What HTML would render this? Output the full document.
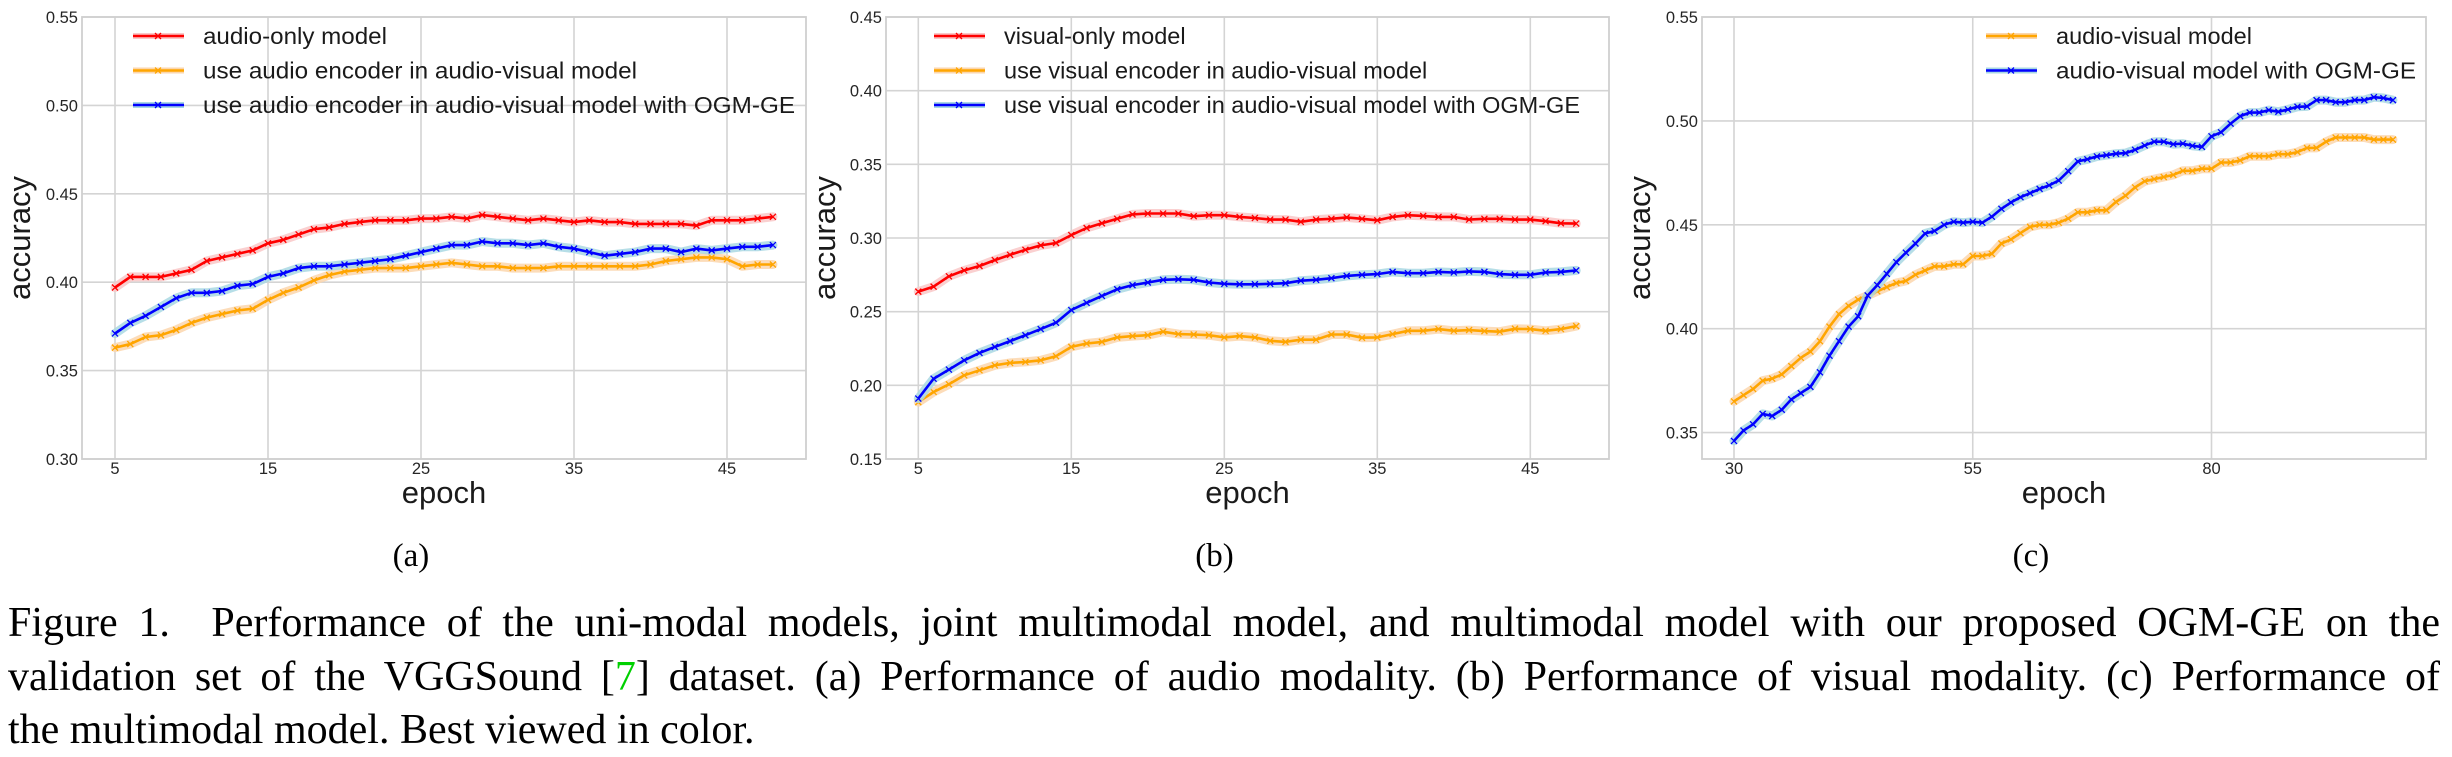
<!DOCTYPE html>
<html>
<head>
<meta charset="utf-8">
<style>
  html,body{margin:0;padding:0;background:#fff;}
  body{position:relative;width:2452px;height:757px;overflow:hidden;}
  svg{display:block;position:absolute;left:0;top:0;}
  .tick{font-family:"Liberation Sans",Arial,sans-serif;font-size:16.5px;fill:#262626;}
  .axt{font-family:"Liberation Sans",Arial,sans-serif;font-size:31px;fill:#1a1a1a;}
  .leg{font-family:"Liberation Sans",Arial,sans-serif;font-size:23.5px;fill:#1a1a1a;}
  .sub{font-family:"Liberation Serif","Times New Roman",serif;font-size:33px;fill:#000;}
  .cap{position:absolute;left:8px;width:2432px;font-family:"Liberation Serif","Times New Roman",serif;font-size:42px;line-height:53px;color:#000;white-space:nowrap;}
  .just{text-align:justify;text-align-last:justify;white-space:normal;}
</style>
</head>
<body>
<svg id="fig" width="2452" height="757" viewBox="0 0 2452 757" xmlns="http://www.w3.org/2000/svg">
  <g id="panels"></g>
</svg>
<div class="cap just" style="top:597px">Figure 1.&nbsp; Performance of the uni-modal models, joint multimodal model, and multimodal model with our proposed OGM-GE on the</div>
<div class="cap just" style="top:651px">validation set of the VGGSound [<span style="color:#00d000">7</span>] dataset. (a) Performance of audio modality. (b) Performance of visual modality. (c) Performance of</div>
<div class="cap" style="top:704px">the multimodal model. Best viewed in color.</div>
<script>
// ---------- Panel (a) data ----------
const epochsA = [5,6,7,8,9,10,11,12,13,14,15,16,17,18,19,20,21,22,23,24,25,26,27,28,29,30,31,32,33,34,35,36,37,38,39,40,41,42,43,44,45,46,47,48];
const audioOnly = [0.397,0.403,0.403,0.403,0.405,0.407,0.412,0.414,0.416,0.418,0.422,0.424,0.427,0.430,0.431,0.433,0.434,0.435,0.435,0.435,0.436,0.436,0.437,0.436,0.438,0.437,0.436,0.435,0.436,0.435,0.434,0.435,0.434,0.434,0.433,0.433,0.433,0.433,0.432,0.435,0.435,0.435,0.436,0.437];
const audioEncAV = [0.363,0.365,0.369,0.370,0.373,0.377,0.380,0.382,0.384,0.385,0.390,0.394,0.397,0.401,0.404,0.406,0.407,0.408,0.408,0.408,0.409,0.410,0.411,0.410,0.409,0.409,0.408,0.408,0.408,0.409,0.409,0.409,0.409,0.409,0.409,0.410,0.412,0.413,0.414,0.414,0.413,0.409,0.410,0.410];
const audioEncOGM = [0.371,0.377,0.381,0.386,0.391,0.394,0.394,0.395,0.398,0.399,0.403,0.405,0.408,0.409,0.409,0.410,0.411,0.412,0.413,0.415,0.417,0.419,0.421,0.421,0.423,0.422,0.422,0.421,0.422,0.420,0.419,0.417,0.415,0.416,0.417,0.419,0.419,0.417,0.419,0.418,0.419,0.420,0.420,0.421];
const yTicksA = [0.30,0.35,0.40,0.45,0.50,0.55];
const xTicksA = [5,15,25,35,45];

// ---------- Panel (b) data ----------
const epochsB = [5,6,7,8,9,10,11,12,13,14,15,16,17,18,19,20,21,22,23,24,25,26,27,28,29,30,31,32,33,34,35,36,37,38,39,40,41,42,43,44,45,46,47,48];
const visualOnly = [0.2636,0.267,0.274,0.278,0.281,0.285,0.2886,0.292,0.295,0.2966,0.302,0.3068,0.310,0.313,0.316,0.3166,0.3166,0.3166,0.3148,0.3155,0.3155,0.3143,0.3136,0.3125,0.3125,0.311,0.3125,0.313,0.314,0.313,0.312,0.3143,0.3155,0.315,0.3143,0.3143,0.3125,0.313,0.313,0.3125,0.3125,0.3114,0.310,0.3098];
const visualEncAV = [0.1886,0.1955,0.2007,0.2068,0.2102,0.2136,0.2152,0.2159,0.217,0.2198,0.2261,0.2284,0.2295,0.2325,0.2334,0.234,0.2364,0.2348,0.2345,0.234,0.2325,0.2334,0.2325,0.2302,0.2295,0.231,0.231,0.2345,0.2345,0.2323,0.2325,0.2348,0.237,0.237,0.2382,0.237,0.2375,0.2368,0.2364,0.2384,0.2382,0.237,0.2382,0.2402];
const visualEncOGM = [0.191,0.2045,0.2107,0.217,0.222,0.2261,0.230,0.234,0.2382,0.2425,0.2511,0.256,0.2607,0.2652,0.268,0.2698,0.2716,0.272,0.2716,0.2698,0.2689,0.2686,0.2686,0.2689,0.2693,0.271,0.2716,0.2727,0.2743,0.275,0.2755,0.277,0.2761,0.2761,0.277,0.2766,0.2773,0.277,0.2755,0.275,0.275,0.2766,0.277,0.278];
const yTicksB = [0.15,0.20,0.25,0.30,0.35,0.40,0.45];
const xTicksB = [5,15,25,35,45];

// ---------- Panel (c) data ----------
const epochsC = [30,31,32,33,34,35,36,37,38,39,40,41,42,43,44,45,46,47,48,49,50,51,52,53,54,55,56,57,58,59,60,61,62,63,64,65,66,67,68,69,70,71,72,73,74,75,76,77,78,79,80,81,82,83,84,85,86,87,88,89,90,91,92,93,94,95,96,97,98,99];
const avModel = [0.365,0.368,0.371,0.375,0.376,0.378,0.382,0.386,0.389,0.394,0.401,0.407,0.411,0.414,0.416,0.418,0.420,0.422,0.423,0.426,0.428,0.430,0.430,0.431,0.431,0.435,0.435,0.436,0.441,0.443,0.446,0.449,0.450,0.450,0.451,0.453,0.456,0.456,0.457,0.457,0.461,0.464,0.468,0.471,0.472,0.473,0.474,0.476,0.476,0.477,0.477,0.480,0.480,0.481,0.483,0.483,0.483,0.484,0.484,0.485,0.487,0.487,0.490,0.492,0.492,0.492,0.492,0.491,0.491,0.491];
const avOGM = [0.346,0.351,0.354,0.359,0.358,0.361,0.366,0.369,0.372,0.379,0.387,0.394,0.401,0.406,0.416,0.421,0.4264,0.432,0.4366,0.441,0.4458,0.447,0.450,0.4515,0.451,0.4515,0.451,0.4539,0.4577,0.4608,0.4633,0.4652,0.4673,0.469,0.4713,0.4758,0.4805,0.4815,0.4829,0.4835,0.4842,0.4845,0.4861,0.4882,0.490,0.490,0.4888,0.4891,0.488,0.4875,0.4926,0.4945,0.4987,0.5023,0.504,0.504,0.5052,0.5044,0.5055,0.5068,0.507,0.510,0.510,0.509,0.509,0.510,0.510,0.5114,0.511,0.510];
const yTicksC = [0.35,0.40,0.45,0.50,0.55];
const xTicksC = [30,55,80];

const NS = "http://www.w3.org/2000/svg";
const root = document.getElementById('panels');
function mk(tag, attrs, parent){
  const e = document.createElementNS(NS, tag);
  for (const k in attrs) e.setAttribute(k, attrs[k]);
  (parent||root).appendChild(e);
  return e;
}
const COL = {
  red:{line:'#ff0000', band:'#f9c8c8'},
  orange:{line:'#ffa500', band:'#fbd6ad'},
  blue:{line:'#0000ff', band:'#a9d8e3'}
};

function drawPanel(cfg){
  const g = mk('g', {});
  
  
  const L=cfg.left, R=cfg.right, T=17, B=459;
  const sx = e => cfg.x0px + (e - cfg.x0) * cfg.pxPerEpoch;
  const sy = v => T + (cfg.ymax - v) / (cfg.ymax - cfg.ymin) * (B - T);
  cfg.yTicks.forEach(t => {
    const ln = mk('line', {x1:L, x2:R, y1:sy(t), y2:sy(t), stroke:'#d4d4d4', 'stroke-width':1.6}, g);
    
    
    const tx = mk('text', {x:L-4, y:sy(t)+6, 'text-anchor':'end', class:'tick'}, g);
    
    
    tx.textContent = t.toFixed(2);
  });
  cfg.xTicks.forEach(t => {
    const ln = mk('line', {x1:sx(t), x2:sx(t), y1:T, y2:B, stroke:'#d4d4d4', 'stroke-width':1.6}, g);
    
    
    const tx = mk('text', {x:sx(t), y:474, 'text-anchor':'middle', class:'tick'}, g);
    
    
    tx.textContent = t;
  });
  const fr = mk('rect', {x:L, y:T, width:R-L, height:B-T, fill:'none', stroke:'#cfcfcf', 'stroke-width':1.8}, g);
  
  
  cfg.series.forEach(s => {
    const pts = cfg.epochs.map((e,i) => sx(e).toFixed(1)+','+sy(s.vals[i]).toFixed(1)).join(' ');
    const band = mk('polyline', {points:pts, fill:'none', stroke:COL[s.c].band, 'stroke-width':9, 'stroke-linejoin':'round', 'stroke-linecap':'round', opacity:0.85}, g);
    
    
    const line = mk('polyline', {points:pts, fill:'none', stroke:COL[s.c].line, 'stroke-width':2.6, 'stroke-linejoin':'round'}, g);
    
    
    let d='';
    cfg.epochs.forEach((e,i) => {
      const x=sx(e), y=sy(s.vals[i]), r=3;
      d += `M${x-r},${y-r}L${x+r},${y+r}M${x-r},${y+r}L${x+r},${y-r}`;
    });
    const mkr = mk('path', {d:d, stroke:COL[s.c].line, 'stroke-width':1.3, fill:'none'}, g);
    
    
  });
  cfg.series.forEach((s,i) => {
    const y = 36 + i*34.5;
    const lg = mk('g', {}, g);
    
    
    mk('line', {x1:cfg.legX, x2:cfg.legX+51, y1:y, y2:y, stroke:COL[s.c].band, 'stroke-width':6}, lg);
    mk('line', {x1:cfg.legX, x2:cfg.legX+51, y1:y, y2:y, stroke:COL[s.c].line, 'stroke-width':2.6}, lg);
    mk('path', {d:`M${cfg.legX+22},${y-3}L${cfg.legX+28},${y+3}M${cfg.legX+22},${y+3}L${cfg.legX+28},${y-3}`, stroke:COL[s.c].line, 'stroke-width':1.3}, lg);
    const t = mk('text', {x:cfg.legX+70, y:y+8, class:'leg'}, lg);
    if (s.tl) { t.setAttribute('textLength', s.tl); t.setAttribute('lengthAdjust','spacingAndGlyphs'); }
    t.textContent = s.label;
  });
  const yt = mk('text', {x:0, y:0, class:'axt', 'text-anchor':'middle', transform:`translate(${cfg.ylabX},238) rotate(-90)`}, g);
  
  
  yt.textContent = 'accuracy';
  const xt = mk('text', {x:L+(R-L)/2, y:503, class:'axt', 'text-anchor':'middle'}, g);
  
  
  xt.textContent = 'epoch';
  const sub = mk('text', {x:L+(R-L)/2-33, y:566, class:'sub', 'text-anchor':'middle'}, g);
  
  
  sub.textContent = cfg.sub;
}

drawPanel({name:'panel-a-audio', left:82, right:806, x0:5, x0px:115, pxPerEpoch:15.3,
  ymin:0.30, ymax:0.55, yTicks:yTicksA, xTicks:xTicksA, epochs:epochsA, legX:133, ylabX:30, sub:'(a)',
  series:[
    {id:'audio-only', c:'red', vals:audioOnly, label:'audio-only model', tl:184},
    {id:'audio-encoder-av', c:'orange', vals:audioEncAV, label:'use audio encoder in audio-visual model', tl:434},
    {id:'audio-encoder-ogm', c:'blue', vals:audioEncOGM, label:'use audio encoder in audio-visual model with OGM-GE', tl:592}
  ]});
drawPanel({name:'panel-b-visual', left:886, right:1609, x0:5, x0px:918.3, pxPerEpoch:15.3,
  ymin:0.15, ymax:0.45, yTicks:yTicksB, xTicks:xTicksB, epochs:epochsB, legX:934, ylabX:835, sub:'(b)',
  series:[
    {id:'visual-only', c:'red', vals:visualOnly, label:'visual-only model'},
    {id:'visual-encoder-av', c:'orange', vals:visualEncAV, label:'use visual encoder in audio-visual model'},
    {id:'visual-encoder-ogm', c:'blue', vals:visualEncOGM, label:'use visual encoder in audio-visual model with OGM-GE'}
  ]});
drawPanel({name:'panel-c-multimodal', left:1702, right:2426, x0:30, x0px:1734, pxPerEpoch:9.55,
  ymin:0.3373, ymax:0.55, yTicks:yTicksC, xTicks:xTicksC, epochs:epochsC, legX:1986, ylabX:1650, sub:'(c)',
  series:[
    {id:'audio-visual', c:'orange', vals:avModel, label:'audio-visual model'},
    {id:'audio-visual-ogm', c:'blue', vals:avOGM, label:'audio-visual model with OGM-GE', tl:360}
  ]});
</script>
</body>
</html>
